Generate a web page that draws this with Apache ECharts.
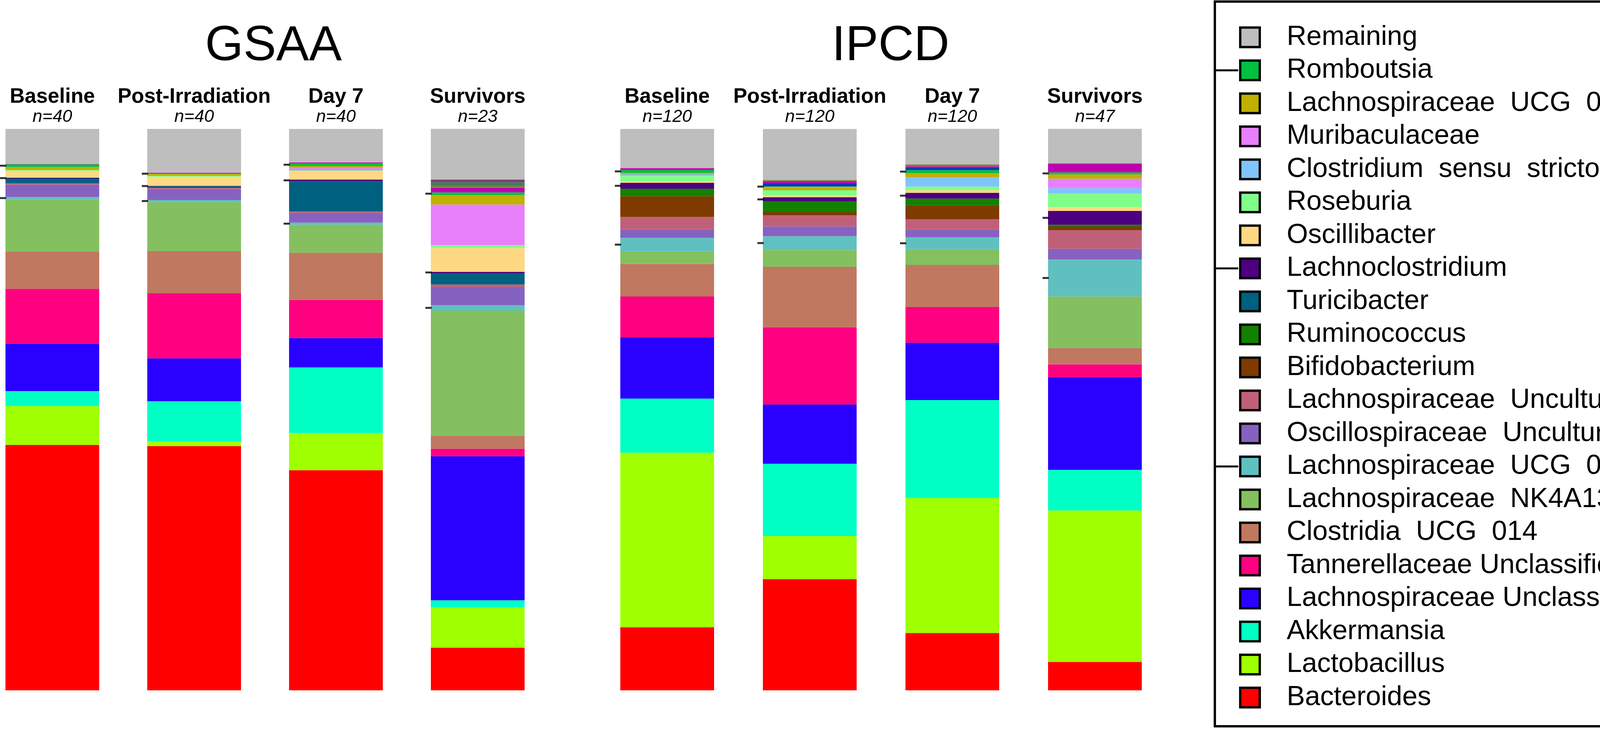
<!DOCTYPE html>
<html>
<head>
<meta charset="utf-8">
<script src="https://cdn.jsdelivr.net/npm/echarts@6/dist/echarts.min.js"></script>
<style>
  html, body { margin: 0; padding: 0; background: #fff; }
  #chart { width: 4350px; height: 1866px; }
</style>
</head>
<body>
<div id="chart"></div>
<script>
// --- labels ---
const groups = ['GSAA', 'IPCD'];
const timepoints = ['Baseline', 'Post-Irradiation', 'Day 7', 'Survivors'];
const nGSAA = [40, 40, 40, 23];
const nIPCD = [120, 120, 120, 47];

// --- relative abundance (%), GSAA x4 then IPCD x4 ---
const bacteroides      = [43.72, 43.50, 39.21, 7.60, 11.23, 19.81, 10.22, 5.07];
const lactobacillus    = [6.93, 0.84, 6.62, 7.19, 31.09, 7.68, 24.03, 26.96];
const akkermansia      = [2.66, 7.15, 11.68, 1.25, 9.64, 12.87, 17.45, 7.24];
const lachnoUnclass    = [8.44, 7.64, 5.24, 25.67, 10.88, 10.57, 10.21, 16.52];
const tannerellaceae   = [9.77, 11.57, 6.78, 1.33, 7.30, 13.76, 6.35, 2.26];
const clostridiaUcg014 = [6.66, 7.52, 8.42, 2.31, 5.82, 10.75, 7.52, 2.93];
const lachnoNk4a136    = [9.32, 8.75, 4.99, 22.29, 2.21, 3.01, 2.80, 9.19];
const lachnoUcg006     = [0.37, 0.37, 0.37, 0.97, 2.44, 2.44, 2.11, 6.56];
const oscilloUncult    = [2.21, 1.97, 1.74, 3.20, 1.46, 1.74, 1.37, 1.93];
const lachnoUncult     = [0.21, 0.19, 0.26, 0.47, 2.23, 1.97, 1.83, 3.32];
const bifidobacterium  = [0, 0, 0, 0, 3.71, 0.58, 2.53, 0.63];
const ruminococcus     = [0, 0, 0, 0, 1.34, 1.90, 1.18, 0.33];
const turicibacter     = [0.88, 0.28, 5.38, 2.04, 0, 0, 0, 0];
const lachnoclostr     = [0.14, 0.09, 0.30, 0.23, 1.04, 0.74, 1.02, 2.44];
const oscillibacter    = [1.25, 1.62, 1.51, 4.24, 0.26, 0.33, 0.47, 0.70];
const roseburia        = [0.14, 0.16, 0.12, 0.51, 0.97, 0.93, 0.65, 2.41];
const clostridiumSs1   = [0, 0, 0, 0, 0.30, 0, 1.58, 0.95];
const muribaculaceae   = [0, 0, 0.44, 7.24, 0, 0, 0.12, 1.69];
const lachnoUcg001     = [0.51, 0.33, 0.33, 1.69, 0.28, 0.61, 0.70, 0.77];
const romboutsia       = [0.47, 0.09, 0.47, 0.47, 0.47, 0.07, 0.51, 0.35];
// small unlabeled taxa sitting above Romboutsia
const otherBlue        = [0, 0, 0, 0, 0.12, 0.58, 0.47, 0];
const otherMagenta     = [0.06, 0.12, 0.16, 0.81, 0.23, 0.35, 0.21, 1.48];
const otherOlive       = [0, 0, 0, 0.40, 0, 0.23, 0.35, 0.14];
const otherTeal        = [0, 0, 0, 0.58, 0, 0, 0, 0];
const otherPlum        = [0, 0, 0, 0.49, 0, 0, 0, 0];
const remaining        = [6.26, 7.81, 5.98, 9.03, 6.98, 9.07, 6.33, 6.14];

// stacking order, bottom -> top
const taxonNames = [
  'Bacteroides', 'Lactobacillus', 'Akkermansia', 'Lachnospiraceae Unclassified',
  'Tannerellaceae Unclassified', 'Clostridia  UCG  014', 'Lachnospiraceae  NK4A136 Grp',
  'Lachnospiraceae  UCG  006', 'Oscillospiraceae  Uncultured', 'Lachnospiraceae  Uncultured',
  'Bifidobacterium', 'Ruminococcus', 'Turicibacter', 'Lachnoclostridium', 'Oscillibacter',
  'Roseburia', 'Clostridium  sensu  stricto  1', 'Muribaculaceae', 'Lachnospiraceae  UCG  001',
  'Romboutsia', 'other1', 'other2', 'other3', 'other4', 'other5', 'Remaining'
];
const taxonValues = [
  bacteroides, lactobacillus, akkermansia, lachnoUnclass, tannerellaceae, clostridiaUcg014,
  lachnoNk4a136, lachnoUcg006, oscilloUncult, lachnoUncult, bifidobacterium, ruminococcus,
  turicibacter, lachnoclostr, oscillibacter, roseburia, clostridiumSs1, muribaculaceae,
  lachnoUcg001, romboutsia, otherBlue, otherMagenta, otherOlive, otherTeal, otherPlum, remaining
];
const taxonColors = [
  '#FF0000', '#A0FF00', '#00FFC4', '#2A00FF', '#FF0080', '#C07860', '#84C060',
  '#60C0C0', '#8662C0', '#C06078', '#7F3A00', '#138000', '#006080', '#4C0080', '#FFD884',
  '#80FF88', '#80C4FF', '#E880FC', '#C0B000', '#00C040', '#0038C0', '#C000B0', '#7A803F',
  '#3F7F60', '#7F3F6F', '#BEBEBE'
];
// taxa flagged with a tick on the left side of each bar
const marked = ['Romboutsia', 'Lachnoclostridium', 'Lachnospiraceae  UCG  006'];

const FONT = '"Liberation Sans", Arial, sans-serif';
const legendNames = taxonNames.filter(n => !n.startsWith('other')).reverse();

function tickPoints(off) {
  const pts = [];
  marked.forEach(nm => {
    const t = taxonNames.indexOf(nm);
    for (let i = 0; i < 4; i++) {
      let base = 0;
      for (let k = 0; k < t; k++) base += taxonValues[k][off + i];
      pts.push([i, base + taxonValues[t][off + i] / 2]);
    }
  });
  return pts;
}

const series = [];
[0, 1].forEach(g => {
  taxonNames.forEach((nm, k) => {
    series.push({
      type: 'bar', name: nm, stack: 'g' + g, clip: false,
      xAxisIndex: g, yAxisIndex: g, barWidth: 240,
      data: taxonValues[k].slice(g * 4, g * 4 + 4),
      itemStyle: { color: taxonColors[k] },
      emphasis: { disabled: true }, silent: true
    });
  });
  series.push({
    type: 'scatter', xAxisIndex: g, yAxisIndex: g, z: 5, silent: true, clip: false,
    symbol: 'rect', symbolSize: [16, 5], symbolOffset: [-126, 0],
    itemStyle: { color: '#000' },
    data: tickPoints(g * 4)
  });
});

const nByGroup = [nGSAA, nIPCD];
const xAxes = [0, 1].map(g => ({
  type: 'category', gridIndex: g, position: 'top', data: timepoints, boundaryGap: false,
  axisLine: { show: false }, axisTick: { show: false }, splitLine: { show: false },
  axisLabel: {
    interval: 0, margin: 5, showMinLabel: true, showMaxLabel: true,
    formatter: (v, i) => '{b|' + v + '}\n{n|n=' + nByGroup[g][i] + '}',
    rich: {
      b: { fontFamily: FONT, fontWeight: 'bold', fontSize: 53, lineHeight: 51, color: '#000' },
      n: { fontFamily: FONT, fontStyle: 'italic', fontSize: 45, lineHeight: 51, color: '#000' }
    }
  }
}));
const yAxes = [0, 1].map(g => ({ type: 'value', gridIndex: g, min: 0, max: 100, show: false }));

// legend layout: each row is as tall as the 70px text
const LEG_TOP = 60.5, LEG_ROW = 70, LEG_PITCH = 84.5, LEG_ITEM = 50;
const legendTicks = marked.map(nm => {
  const y = LEG_TOP + LEG_ROW / 2 + legendNames.indexOf(nm) * LEG_PITCH;
  return { type: 'line', shape: { x1: 3110, y1: y, x2: 3170, y2: y }, style: { stroke: '#000', lineWidth: 5 } };
});

const chart = echarts.init(document.getElementById('chart'));
chart.setOption({
  animation: false,
  backgroundColor: '#fff',
  grid: [
    { left: 134, width: 1089, top: 330, height: 1437 },
    { left: 1708, width: 1095, top: 330, height: 1437 }
  ],
  xAxis: xAxes,
  yAxis: yAxes,
  legend: {
    data: legendNames, orient: 'vertical', left: 3172, top: LEG_TOP, padding: 0,
    icon: 'rect', itemWidth: LEG_ITEM, itemHeight: LEG_ITEM, itemGap: LEG_PITCH - LEG_ROW,
    itemStyle: { borderColor: '#000', borderWidth: 6 },
    selectedMode: false,
    textStyle: { fontFamily: FONT, fontSize: 70, color: '#000', padding: [0, 0, 0, 64] }
  },
  graphic: [
    { type: 'text', x: 700, y: 119, style: { text: groups[0], font: '126px ' + FONT, fill: '#000', align: 'center', verticalAlign: 'middle' } },
    { type: 'text', x: 2280, y: 119, style: { text: groups[1], font: '126px ' + FONT, fill: '#000', align: 'center', verticalAlign: 'middle' } },
    { type: 'rect', shape: { x: 3110, y: 4, width: 1230, height: 1855 }, style: { fill: 'none', stroke: '#000', lineWidth: 6 } }
  ].concat(legendTicks),
  series: series
});
</script>
</body>
</html>
